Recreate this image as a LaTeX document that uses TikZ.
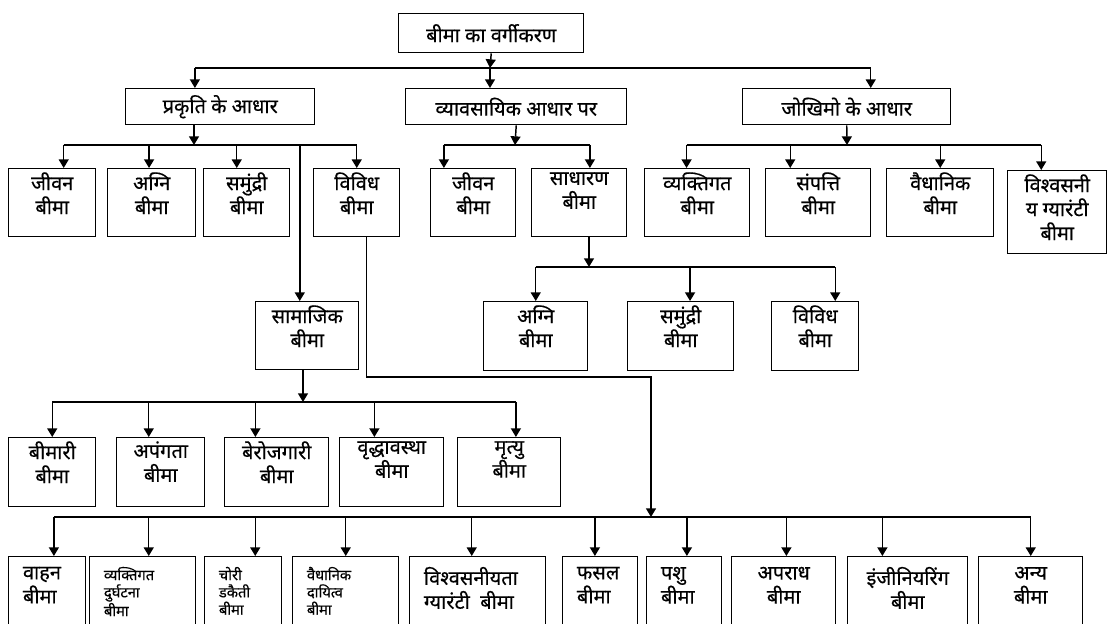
\documentclass[tikz,border=0pt]{standalone}
\usepackage{fontspec}
\newfontfamily\hindi[Script=Devanagari, FakeBold=0.4]{Noto Sans}
\usetikzlibrary{arrows.meta, positioning}
\def\pu{0.75pt}

\begin{document}
\begin{tikzpicture}[
        x=0.75pt, y=-0.75pt,
        txt/.style={font=\hindi\fontsize{15}{18}\selectfont},
        cell/.style 2 args={rectangle, draw=black, line width=1.1pt, anchor=north west, inner sep=0pt, minimum width=#1*\pu, minimum height=#2*\pu},
        lbl/.style={txt, align=center, inner sep=3pt},
        toptext/.style={label={[lbl, anchor=north]north:{#1}}},
        lefttext/.style={label={[lbl, align=left, anchor=north west, xshift=8pt]north west:{#1}}},
        smalltext/.style={label={[lbl, align=left, anchor=north west, xshift=8pt, font=\hindi\fontsize{11}{13}\selectfont]north west:{#1}}},
        con/.style={line width=1.1pt},
        conarrow/.style={-{Triangle[width=7.5pt, length=6.5pt]}, line width=1.1pt},
    ]
        \useasboundingbox (0,0) rectangle (1108,624);
        \clip (0,0) rectangle (1108,624);

        % top
        \node[cell={185}{39}, txt] (root) at (398,13) {बीमा का वर्गीकरण};
        \node[cell={189}{36}, txt] (prakriti) at (125,88) {प्रकृति के आधार};
        \node[cell={221}{36}, txt] (vyavsayik) at (405,88) {व्यावसायिक आधार पर};
        \node[cell={208}{36}, txt] (jokhim) at (742,88) {जोखिमो के आधार};

        % second row
        \node[cell={87}{68}, toptext={जीवन\\बीमा}] (jivanA) at (8,168) {};
        \node[cell={88}{68}, toptext={अग्नि\\बीमा}] (agniA) at (107,168) {};
        \node[cell={86}{68}, toptext={समुंद्री\\बीमा}] (samudriA) at (203,168) {};
        \node[cell={86}{68}, toptext={विविध\\बीमा}] (vividhA) at (313,168) {};
        \node[cell={85}{68}, toptext={जीवन\\बीमा}] (jivanB) at (430,168) {};
        \node[cell={95}{68}, toptext={साधारण\\बीमा}] (sadharan) at (531,168) {};
        \node[cell={105}{68}, toptext={व्यक्तिगत\\बीमा}] (vyaktigat) at (644,168) {};
        \node[cell={105}{68}, toptext={संपत्ति\\बीमा}] (sampatti) at (765,168) {};
        \node[cell={107}{68}, toptext={वैधानिक\\बीमा}] (vaidhanik) at (886,168) {};
        \node[cell={99}{83}, toptext={विश्वसनी\\य ग्यारंटी\\बीमा}] (vishvas) at (1007,170) {};

        \node[cell={103}{68}, toptext={सामाजिक\\बीमा}] (samajik) at (255,301) {};
        \node[cell={104}{69}, toptext={अग्नि\\बीमा}] (agniC) at (483,301) {};
        \node[cell={106}{69}, toptext={समुंद्री\\बीमा}] (samudriC) at (627,301) {};
        \node[cell={87}{69}, toptext={विविध\\बीमा}] (vividhC) at (771,301) {};

        % social row
        \node[cell={87}{69}, toptext={बीमारी\\बीमा}] (bimari) at (8,437) {};
        \node[cell={88}{69}, toptext={अपंगता\\बीमा}] (apangta) at (116,437) {};
        \node[cell={104}{69}, toptext={बेरोजगारी\\बीमा}] (berojgari) at (224,437) {};
        \node[cell={104}{69}, toptext={वृद्धावस्था\\बीमा}] (vriddha) at (339,437) {};
        \node[cell={103}{69}, toptext={मृत्यु\\बीमा}] (mrityu) at (457,437) {};

        % bottom row
        \begin{scope}[every label/.append style={yshift=-5pt}]
        \node[cell={77}{80}, lefttext={वाहन\\बीमा}] (vahan) at (8,556) {};
        \node[cell={106}{80}, smalltext={व्यक्तिगत\\दुर्घटना\\बीमा}] (durghatna) at (89,556) {};
        \node[cell={77}{80}, smalltext={चोरी\\डकैती\\बीमा}] (chori) at (204,556) {};
        \node[cell={106}{80}, smalltext={वैधानिक\\दायित्व\\बीमा}] (dayitva) at (292,556) {};
        \node[cell={136}{80}, lefttext={विश्वसनीयता\\ग्यारंटी\ \ बीमा}] (vishvasniyata) at (409,556) {};
        \node[cell={75}{80}, lefttext={फसल\\बीमा}] (fasal) at (562,556) {};
        \node[cell={75}{80}, lefttext={पशु\\बीमा}] (pashu) at (646,556) {};
        \node[cell={104}{80}, toptext={अपराध\\बीमा}] (apradh) at (731,556) {};
        \node[cell={120}{80}, toptext={इंजीनियरिंग\\बीमा}] (engg) at (847,556) {};
        \node[cell={104}{80}, toptext={अन्य\\बीमा}] (anya) at (978,556) {};
        \end{scope}

        \coordinate (tJ) at (490,68);
        \coordinate (pJ) at (194,145);
        \coordinate (vJ) at (515,145);
        \coordinate (jJ) at (847,145);
        \coordinate (sJ) at (589,267);
        \coordinate (mJ) at (303,402);
        \coordinate (vbend) at (651,377);
        \coordinate (bJ) at (651,517);

        % from the root
        \draw[conarrow] (root.south) -- (tJ);
        \draw[con] ([xshift=-19pt]prakriti.north |- tJ) -- ([xshift=18pt]jokhim.north |- tJ);
        \draw[conarrow] ([xshift=-19pt]prakriti.north |- tJ) -- ([xshift=-19pt]prakriti.north);
        \draw[conarrow] (tJ) -- (tJ |- vyavsayik.north);
        \draw[conarrow] ([xshift=18pt]jokhim.north |- tJ) -- ([xshift=18pt]jokhim.north);

        % prakriti
        \draw[conarrow] (pJ |- prakriti.south) -- (pJ);
        \draw[con] ([xshift=8.6pt]jivanA.north |- pJ) -- (vividhA.north |- pJ);
        \draw[conarrow] ([xshift=8.6pt]jivanA.north |- pJ) -- ([xshift=8.6pt]jivanA.north);
        \draw[conarrow] ([xshift=-2pt]agniA.north |- pJ) -- ([xshift=-2pt]agniA.north);
        \draw[conarrow] ([xshift=-7.5pt]samudriA.north |- pJ) -- ([xshift=-7.5pt]samudriA.north);
        \draw[conarrow] (vividhA.north |- pJ) -- (vividhA.north);
        \draw[conarrow] ([xshift=-5.6pt]samajik.north |- pJ) -- ([xshift=-5.6pt]samajik.north);

        % vyavsayik
        \draw[conarrow] (vyavsayik.south) -- (vJ);
        \draw[con] ([xshift=-22pt]jivanB.north |- vJ) -- ([xshift=8pt]sadharan.north |- vJ);
        \draw[conarrow] ([xshift=-22pt]jivanB.north |- vJ) -- ([xshift=-22pt]jivanB.north);
        \draw[conarrow] ([xshift=8pt]sadharan.north |- vJ) -- ([xshift=8pt]sadharan.north);

        % jokhim
        \draw[conarrow] (jokhim.south) -- (jJ);
        \draw[con] ([xshift=-8pt]vyaktigat.north |- jJ) -- ([xshift=-12pt]vishvas.north |- jJ);
        \draw[conarrow] ([xshift=-8pt]vyaktigat.north |- jJ) -- ([xshift=-8pt]vyaktigat.north);
        \draw[conarrow] ([xshift=-21pt]sampatti.north |- jJ) -- ([xshift=-21pt]sampatti.north);
        \draw[conarrow] (vaidhanik.north |- jJ) -- (vaidhanik.north);
        \draw[conarrow] ([xshift=-12pt]vishvas.north |- jJ) -- ([xshift=-12pt]vishvas.north);

        % sadharan
        \draw[conarrow] (sJ |- sadharan.south) -- (sJ);
        \draw[con] (agniC.north |- sJ) -- ([xshift=15pt]vividhC.north |- sJ);
        \draw[conarrow] (agniC.north |- sJ) -- (agniC.north);
        \draw[conarrow] ([xshift=7pt]samudriC.north |- sJ) -- ([xshift=7pt]samudriC.north);
        \draw[conarrow] ([xshift=15pt]vividhC.north |- sJ) -- ([xshift=15pt]vividhC.north);

        % samajik
        \draw[conarrow] (mJ |- samajik.south) -- (mJ);
        \draw[con] (bimari.north |- mJ) -- ([xshift=5pt]mrityu.north |- mJ);
        \draw[conarrow] (bimari.north |- mJ) -- (bimari.north);
        \draw[conarrow] ([xshift=-9pt]apangta.north |- mJ) -- ([xshift=-9pt]apangta.north);
        \draw[conarrow] ([xshift=-16pt]berojgari.north |- mJ) -- ([xshift=-16pt]berojgari.north);
        \draw[conarrow] ([xshift=-13pt]vriddha.north |- mJ) -- ([xshift=-13pt]vriddha.north);
        \draw[conarrow] ([xshift=5pt]mrityu.north |- mJ) -- ([xshift=5pt]mrityu.north);

        % vividh down to the bottom row
        \draw[conarrow] ([xshift=7.5pt]vividhA.south) |- (vbend) -- (bJ);
        \draw[con] ([xshift=5pt]vahan.north |- bJ) -- (anya.north |- bJ);
        \draw[conarrow] ([xshift=5pt]vahan.north |- bJ) -- ([xshift=5pt]vahan.north);
        \draw[conarrow] ([xshift=4.5pt]durghatna.north |- bJ) -- ([xshift=4.5pt]durghatna.north);
        \draw[conarrow] ([xshift=9pt]chori.north |- bJ) -- ([xshift=9pt]chori.north);
        \draw[conarrow] (dayitva.north |- bJ) -- (dayitva.north);
        \draw[conarrow] ([xshift=-4.5pt]vishvasniyata.north |- bJ) -- ([xshift=-4.5pt]vishvasniyata.north);
        \draw[conarrow] ([xshift=-4pt]fasal.north |- bJ) -- ([xshift=-4pt]fasal.north);
        \draw[conarrow] ([xshift=2pt]pashu.north |- bJ) -- ([xshift=2pt]pashu.north);
        \draw[conarrow] ([xshift=2pt]apradh.north |- bJ) -- ([xshift=2pt]apradh.north);
        \draw[conarrow] ([xshift=-19pt]engg.north |- bJ) -- ([xshift=-19pt]engg.north);
        \draw[conarrow] (anya.north |- bJ) -- (anya.north);
    \end{tikzpicture}
\end{document}
